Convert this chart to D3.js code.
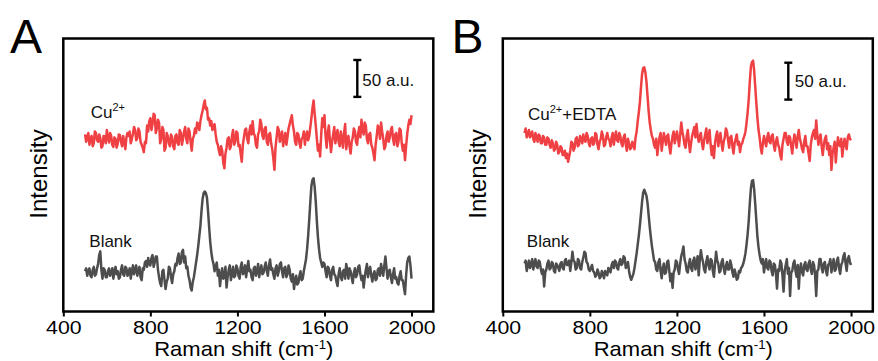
<!DOCTYPE html>
<html>
<head>
<meta charset="utf-8">
<script src="https://cdn.jsdelivr.net/npm/d3@7"></script>
<style>
  body { margin: 0; background: #fff; }
  svg { display: block; font-family: "Liberation Sans", Arial, sans-serif; }
</style>
</head>
<body>
<svg id="chart" width="878" height="361"></svg>
<script>
// Raman shift grid (cm-1) shared by every spectrum
const shiftStart = 500;
const shiftStep = 5;
const xTicks = [400, 800, 1200, 1600, 2000];

// intensities (a.u.) relative to each trace's own baseline, 500..2000 cm-1, one row = 100 cm-1
const cuA = [
  8, -2, 4, 10, -6, 2, 6, -8, -4, 12, 10, 0, -2, 8, 3, -10, -8, 6, 5, -4,
  14, 4, -3, 10, 6, -6, -9, 4, 2, -10, -5, 8, 7, -2, -8, 6, -2, -12, 4, 10,
  6, 12, -4, 2, 9, 18, 14, 0, 3, 16, 12, -2, -6, -10, -16, -2, -4, 20, 12, 26,
  30, 14, 22, 36, 34, 10, 16, 28, 24, -4, 2, 18, 14, -14, -10, 10, 6, -4, -8, 8,
  4, -8, -12, 6, 8, -4, -6, 14, 10, -6, 2, 12, 18, 2, -4, 16, 12, -2, -14, 2,
  6, 16, 10, 24, 22, 14, 26, 34, 40, 48, 54, 42, 44, 28, 30, 20, 26, 14, 18, 22,
  8, -2, -6, -14, -20, -8, -14, -30, -38, -18, -10, 2, 4, -12, -8, 6, 14, -6, -2, 12,
  10, -8, -6, -18, -29, -6, 4, 14, 16, 2, -4, 12, 20, 8, 26, 10, 6, -6, -10, 8,
  12, 28, 22, 6, 2, 16, 18, -2, -6, 8, 10, -4, -12, -24, -40, -10, 4, 18, 14, -2,
  6, 12, -8, 2, 10, -6, 4, 16, 22, 28, 34, 20, 12, -2, -6, 10, 8, -4, -10, 2,
  4, 12, -6, 6, 12, 0, 6, 18, 30, 44, 54, 36, 20, 2, -14, -6, -22, 8, 30, 18,
  34, 6, -10, 10, 20, 0, -16, -2, 8, 18, -4, 6, 14, -2, -8, 12, 2, -10, 10, 22,
  -12, 0, 6, -8, -18, -2, 4, 16, 12, -2, -6, 10, 18, 4, 28, 14, 8, 24, 20, 2,
  -4, 8, 10, -6, -10, -18, -27, -6, 6, 20, 16, 2, 24, 12, 2, -12, -8, 6, 12, -2,
  4, 14, 18, 2, -6, 8, 10, -8, -2, 16, 14, -4, -14, -6, -27, -8, 8, 20, 28, 22,
  34
];
const blankA = [
  2, 6, -4, 2, 6, -4, -6, 4, 8, -4, -2, 6, 12, 24, 29, 4, -8, 6, 4, -6,
  -6, 2, 6, -4, 0, 6, -8, 2, 8, -2, 2, -8, -6, 4, 10, -2, -4, 8, 6, -4,
  0, 6, -8, 2, 10, -2, 4, 10, -4, 2, 8, -6, -10, 6, 4, 14, 16, 8, 20, 12,
  10, 20, 24, 8, 14, 22, 22, 4, -6, -14, -18, 2, 4, -10, -22, -12, -8, 8, 6, -6,
  -14, -2, 2, 12, 10, 20, 26, 12, 14, 28, 31, 14, 22, 6, 8, -4, -10, -20, -24, -12,
  -6, 4, 14, 24, 36, 50, 64, 84, 100, 108, 110, 108, 102, 84, 62, 42, 28, 18, 12, 2,
  8, 14, -4, 4, -18, -4, 6, -8, -6, 8, -20, -6, 4, 10, -10, -2, 8, -6, -4, 10,
  6, -4, -8, 8, 14, -2, 0, 10, -6, 6, 16, 2, 4, -6, -10, 6, 8, -4, 2, 12,
  -6, 4, 10, -2, 0, 8, 14, 2, -4, 10, 18, 4, 6, -2, -8, 6, 10, -4, 2, 12,
  14, 2, -6, 6, 8, -6, -2, 10, 4, -8, -12, -2, -22, -10, -4, -16, -14, -4, 2, -10,
  -8, 2, 10, 18, 32, 50, 72, 96, 118, 126, 128, 116, 96, 70, 48, 32, 20, 14, 8, 14,
  12, 2, -6, 8, 6, -4, -10, 4, 8, -2, -4, -12, -18, -2, 6, -6, -10, 2, 4, -8,
  12, 4, -8, 6, 2, -6, -14, 0, 6, -6, -2, 8, 10, -2, -10, -4, -20, -6, 4, 12,
  -6, 4, 8, -4, -12, -2, 2, -10, -8, 4, 6, -4, 12, 2, -4, 10, 22, 6, -8, 2,
  4, -6, -14, -2, 6, -8, -6, -14, -16, -4, 2, -10, -10, -20, -29, -4, 14, 20, 22, 10,
  -8
];
const cuEdtaB = [
  10, 16, 4, 8, 14, 4, 8, 12, 2, -2, 10, 4, -2, 8, 6, -4, -4, 6, 4, -6,
  -6, 4, 2, -6, -10, 0, -4, -14, -12, -2, -6, -18, -16, -8, -10, -20, -20, -14, -24, -18,
  -29, -22, -14, -2, -4, -14, -10, 2, 4, -8, -6, 6, 2, -4, 8, 0, -2, 10, 6, -4,
  -8, 2, 4, -6, -4, 10, 8, -6, -12, -2, 2, 12, 6, -8, -6, 4, 10, 2, 0, -8,
  4, 10, -6, 4, 12, 0, -2, 10, 6, -4, -8, 4, 8, -6, -14, 2, -4, -12, -10, -2,
  -6, -12, 4, 12, 26, 38, 52, 72, 90, 98, 99, 92, 80, 60, 40, 24, 14, 6, 2, -6,
  -10, 2, -20, -6, 4, 10, -14, -2, 10, 2, -6, 6, 8, -8, -18, -4, 6, 12, -4, 4,
  12, 2, -8, 8, 24, 12, 4, -6, -10, 6, 14, -2, -16, -4, 6, 12, 18, 4, 22, 8,
  -2, 6, 10, -4, -12, 0, 8, 16, -4, 4, 14, -6, -20, -8, -24, -4, 6, 12, -8, 2,
  10, -4, -14, -2, 4, 16, 12, 0, -10, 4, 6, -8, -18, -4, 2, 8, -6, -2, -16, -6,
  -4, 2, 6, 12, 24, 38, 56, 80, 100, 106, 108, 94, 72, 50, 30, 14, 4, -10, -18, -4,
  6, -2, -8, 4, 10, -2, -4, 6, 8, -6, -14, -2, 4, -6, -10, -20, -26, -6, 2, 10,
  10, -2, -6, 6, 4, -8, -18, -2, 8, 0, -10, 6, 14, 2, -4, -12, -16, -2, 6, -8,
  -8, -18, -28, -6, 4, 10, 14, 2, 27, 8, -6, 2, 8, -8, -20, -6, 2, 6, -12, -4,
  -20, -8, -40, -18, -10, -2, -30, -10, 4, -6, -8, 2, -22, -8, 2, -6, -12, 4, 8, 2,
  0
];
const blankB = [
  4, 8, -6, 2, 8, -2, 2, 10, -4, 4, 10, 0, -2, 8, 6, -4, -10, -4, -27, -8,
  -4, 4, 8, -4, -2, 6, 4, -6, -8, 4, 2, -2, -6, 4, 6, -2, -4, 8, 10, 2,
  2, 8, -6, 6, 20, 8, 6, -4, -2, 10, 8, -2, -4, 6, 12, 20, 18, 6, 4, -4,
  -6, -2, 2, -6, -8, -14, -12, -4, -8, -16, -14, -6, -10, -16, -6, -10, -12, -2, -4, -8,
  2, 6, -2, 8, 6, -2, -4, 6, 10, 2, 4, 14, 12, -2, 0, 6, -6, -14, -18, -14,
  -10, -2, 8, 18, 30, 42, 56, 72, 88, 100, 104, 100, 96, 86, 70, 54, 40, 28, 18, 8,
  6, -4, -6, 6, 10, -6, -16, -2, 4, -10, -8, 6, 8, -6, -20, -10, -29, -8, -4, 8,
  6, -4, -10, 4, 14, 20, 27, 10, 4, -6, -8, 4, 10, -2, -6, 8, 12, -4, 2, 14,
  -12, 8, 22, 12, 6, -4, -8, 6, 14, 2, -4, 10, 8, -6, -14, 4, 20, 8, 4, -8,
  -6, 6, 10, -2, -10, 0, 6, -4, -4, 8, 2, -8, -14, -4, -10, -18, -16, -6, -8, -2,
  0, 4, 10, 18, 30, 44, 62, 86, 106, 116, 117, 104, 84, 62, 40, 26, 16, 8, 4, 10,
  -8, 2, 10, -2, -4, 8, 6, -6, -12, 4, 2, -10, -30, -4, -6, 8, 4, -12, -34, -6,
  2, 10, -10, -2, -40, -8, -6, 4, 8, -6, -14, 2, -30, -4, 4, -8, -12, 2, 6, -4,
  -6, 4, 8, -4, -10, 6, 2, -12, -40, -6, -4, 10, 10, -2, -8, 4, 6, -6, -12, 2,
  4, 10, -8, 2, 10, -6, -4, 8, 12, -2, -10, 2, 6, 14, 18, 4, -6, 10, 14, 6,
  2
];

const red = "#ef4044";
const gray = "#4d4d4d";

const panels = [
  {
    letter: "A", left: 63.3, letterDx: -53.3,
    traces: [
      { values: cuA, offset: 232, color: red, label: ["Cu", "2+", ""], lx: 27.4, ly: 79.5 },
      { values: blankA, offset: 52.5, color: gray, label: ["Blank"], lx: 26, ly: 208 }
    ],
    bar: { x: 294, top: 21.5, tx: 299, ty: 47.5 }
  },
  {
    letter: "B", left: 502.8, letterDx: -51.3,
    traces: [
      { values: cuEdtaB, offset: 232, color: red, label: ["Cu", "2+", "+EDTA"], lx: 25.2, ly: 81.5 },
      { values: blankB, offset: 61, color: gray, label: ["Blank"], lx: 24, ly: 208 }
    ],
    bar: { x: 285.5, top: 24.2, tx: 292, ty: 48.2 }
  }
];

const panelTop = 38.5;
const w = 370;
const h = 273;

const svg = d3.select("#chart");

const x = d3.scaleLinear().domain([400, 2100]).range([0, w]);
const y = d3.scaleLinear().domain([0, 370]).range([h, 0]);

panels.forEach((p) => {
  const g = svg.append("g").attr("transform", `translate(${p.left},${panelTop})`);

  // spectra
  p.traces.forEach((t) => {
    const line = d3.line()
      .x((d, i) => x(shiftStart + i * shiftStep))
      .y((d) => y(d + t.offset));
    g.append("path")
      .datum(t.values)
      .attr("d", line)
      .attr("fill", "none")
      .attr("stroke", t.color)
      .attr("stroke-width", 2.5)
      .attr("stroke-linejoin", "round");

    const txt = g.append("text")
      .attr("x", t.lx)
      .attr("y", t.ly)
      .attr("font-size", 17)
      .attr("fill", "#111");
    txt.append("tspan").text(t.label[0]);
    if (t.label.length > 1) {
      txt.append("tspan").attr("font-size", 11).attr("dy", -7).text(t.label[1]);
      if (t.label[2]) txt.append("tspan").attr("dy", 7).text(t.label[2]);
    }
  });

  // frame
  g.append("rect")
    .attr("width", w)
    .attr("height", h)
    .attr("fill", "none")
    .attr("stroke", "#000")
    .attr("stroke-width", 2.5);

  // bottom axis
  const axis = g.append("g")
    .attr("transform", `translate(0,${h})`)
    .call(d3.axisBottom(x).tickValues(xTicks).tickSize(5).tickSizeOuter(0).tickFormat(d3.format("d")));
  axis.select(".domain").remove();
  axis.selectAll(".tick line").attr("stroke", "#000").attr("stroke-width", 2);
  axis.selectAll(".tick text")
    .attr("y", 22.5)
    .attr("dy", 0)
    .attr("font-size", 18.5)
    .attr("font-family", "Liberation Sans, Arial, sans-serif")
    .attr("fill", "#000")
    .attr("transform", "scale(1.15,1)");

  // axis title
  const title = g.append("text")
    .attr("transform", `translate(${w / 2 - 4.5},${317.5}) scale(1.1,1)`)
    .attr("text-anchor", "middle")
    .attr("font-size", 20)
    .attr("fill", "#000");
  title.append("tspan").text("Raman shift (cm");
  title.append("tspan").attr("font-size", 12).attr("dy", -7).text("-1");
  title.append("tspan").attr("dy", 7).text(")");

  g.append("text")
    .attr("transform", `translate(-16.5,${135.5}) rotate(-90)`)
    .attr("text-anchor", "middle")
    .attr("font-size", 24)
    .attr("fill", "#000")
    .text("Intensity");

  // panel letter
  g.append("text")
    .attr("x", p.letterDx)
    .attr("y", 14.2)
    .attr("font-size", 48)
    .attr("fill", "#000")
    .text(p.letter);

  // 50 a.u. scale bar
  const barLen = y(0) - y(50);
  const b = p.bar;
  const bar = g.append("g").attr("stroke", "#000").attr("stroke-width", 2.4);
  bar.append("line").attr("x1", b.x).attr("x2", b.x).attr("y1", b.top).attr("y2", b.top + barLen);
  bar.append("line").attr("x1", b.x - 4).attr("x2", b.x + 4).attr("y1", b.top).attr("y2", b.top);
  bar.append("line").attr("x1", b.x - 4).attr("x2", b.x + 4).attr("y1", b.top + barLen).attr("y2", b.top + barLen);
  g.append("text")
    .attr("x", b.tx)
    .attr("y", b.ty)
    .attr("font-size", 17)
    .attr("fill", "#111")
    .text("50 a.u.");
});
</script>
</body>
</html>
